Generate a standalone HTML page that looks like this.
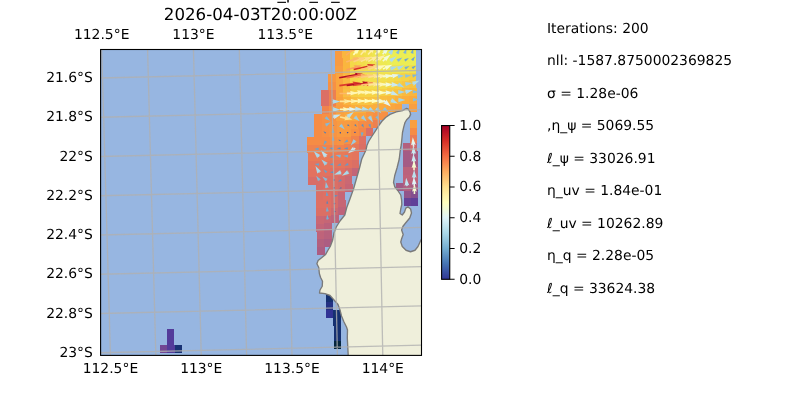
<!DOCTYPE html>
<html><head><meta charset="utf-8"><title>plot</title><style>html,body{margin:0;padding:0;background:#fff}svg{display:block;will-change:transform}</style></head><body>
<svg text-rendering="geometricPrecision" width="800" height="400" viewBox="0 0 800 400" font-family="'DejaVu Sans', 'Liberation Sans', sans-serif">
<rect width="800" height="400" fill="#fff"/>
<defs><clipPath id="ax"><rect x="100.6" y="49.5" width="320.9" height="305.9"/></clipPath>
<linearGradient id="cb" x1="0" y1="0" x2="0" y2="1"><stop offset="0" stop-color="#a50026"/><stop offset="0.05" stop-color="#bd1726"/><stop offset="0.1" stop-color="#d62f27"/><stop offset="0.15" stop-color="#e54e35"/><stop offset="0.2" stop-color="#f46d43"/><stop offset="0.25" stop-color="#f88c51"/><stop offset="0.3" stop-color="#fdad60"/><stop offset="0.35" stop-color="#fdc778"/><stop offset="0.4" stop-color="#fee090"/><stop offset="0.45" stop-color="#fff0a8"/><stop offset="0.5" stop-color="#fffebe"/><stop offset="0.55" stop-color="#f0f9db"/><stop offset="0.6" stop-color="#e0f3f8"/><stop offset="0.65" stop-color="#c5e6f0"/><stop offset="0.7" stop-color="#aad8e9"/><stop offset="0.75" stop-color="#90c3dd"/><stop offset="0.8" stop-color="#74add1"/><stop offset="0.85" stop-color="#5c90c2"/><stop offset="0.9" stop-color="#4574b3"/><stop offset="0.95" stop-color="#3a54a4"/><stop offset="1" stop-color="#313695"/></linearGradient></defs>
<rect x="100.6" y="49.5" width="320.9" height="305.9" fill="#97b6e1"/>
<g clip-path="url(#ax)">
<g shape-rendering="crispEdges">
<rect x="335.1" y="50.7" width="7.5" height="7.6" fill="#f89b41"/>
<rect x="342.4" y="50.5" width="7.5" height="7.6" fill="#fab63e"/>
<rect x="349.7" y="50.4" width="7.5" height="7.6" fill="#f4d848"/>
<rect x="357.0" y="50.2" width="7.5" height="7.6" fill="#f3dc4b"/>
<rect x="364.4" y="50.0" width="7.5" height="7.6" fill="#f1e04d"/>
<rect x="371.7" y="49.8" width="7.5" height="7.6" fill="#efe54f"/>
<rect x="379.0" y="49.7" width="7.5" height="7.6" fill="#eee951"/>
<rect x="386.3" y="49.5" width="7.5" height="7.6" fill="#eced53"/>
<rect x="393.6" y="49.7" width="7.5" height="7.6" fill="#eced53"/>
<rect x="400.9" y="49.5" width="7.5" height="7.6" fill="#eced53"/>
<rect x="408.3" y="49.4" width="7.5" height="7.6" fill="#eced53"/>
<rect x="335.2" y="58.2" width="7.5" height="8.0" fill="#f89b41"/>
<rect x="342.6" y="58.0" width="7.5" height="8.0" fill="#fab63e"/>
<rect x="349.9" y="57.8" width="7.5" height="8.0" fill="#f4d848"/>
<rect x="357.2" y="57.6" width="7.5" height="8.0" fill="#f3dc4b"/>
<rect x="364.5" y="57.5" width="7.5" height="8.0" fill="#f1e04d"/>
<rect x="371.8" y="57.3" width="7.5" height="8.0" fill="#efe54f"/>
<rect x="379.1" y="57.1" width="7.5" height="8.0" fill="#eee951"/>
<rect x="386.5" y="56.9" width="7.5" height="8.0" fill="#eced53"/>
<rect x="393.8" y="57.2" width="7.5" height="8.0" fill="#eced53"/>
<rect x="401.1" y="57.0" width="7.5" height="8.0" fill="#eced53"/>
<rect x="408.4" y="56.8" width="7.5" height="8.0" fill="#eced53"/>
<rect x="335.4" y="66.0" width="7.5" height="8.0" fill="#f99f40"/>
<rect x="342.7" y="65.8" width="7.5" height="8.0" fill="#fab63e"/>
<rect x="350.0" y="65.7" width="7.5" height="8.0" fill="#f4d848"/>
<rect x="357.3" y="65.5" width="7.5" height="8.0" fill="#f3dc4b"/>
<rect x="364.7" y="65.3" width="7.5" height="8.0" fill="#f1e04d"/>
<rect x="372.0" y="65.1" width="7.5" height="8.0" fill="#efe54f"/>
<rect x="379.3" y="65.0" width="7.5" height="8.0" fill="#efe54f"/>
<rect x="386.6" y="64.8" width="7.5" height="8.0" fill="#efe54f"/>
<rect x="393.9" y="65.0" width="7.5" height="8.0" fill="#efe54f"/>
<rect x="401.2" y="64.8" width="7.5" height="8.0" fill="#efe54f"/>
<rect x="408.5" y="64.7" width="7.5" height="8.0" fill="#f1e04d"/>
<rect x="328.3" y="74.0" width="7.5" height="8.0" fill="#f89742"/>
<rect x="335.6" y="73.9" width="7.5" height="8.0" fill="#faa63e"/>
<rect x="342.9" y="73.7" width="7.5" height="8.0" fill="#f9ba40"/>
<rect x="350.2" y="73.5" width="7.5" height="8.0" fill="#f4d848"/>
<rect x="357.5" y="73.3" width="7.5" height="8.0" fill="#f3dc4b"/>
<rect x="364.8" y="73.2" width="7.5" height="8.0" fill="#f1e04d"/>
<rect x="372.1" y="73.0" width="7.5" height="8.0" fill="#f1e04d"/>
<rect x="379.4" y="72.8" width="7.5" height="8.0" fill="#f1e04d"/>
<rect x="386.7" y="72.7" width="7.5" height="8.0" fill="#f3dc4b"/>
<rect x="394.1" y="72.9" width="7.5" height="8.0" fill="#f4d848"/>
<rect x="401.4" y="72.7" width="7.5" height="8.0" fill="#f6d346"/>
<rect x="408.7" y="72.5" width="7.5" height="8.0" fill="#f6cf45"/>
<rect x="328.4" y="81.9" width="7.5" height="8.0" fill="#f79044"/>
<rect x="335.7" y="81.7" width="7.5" height="8.0" fill="#faa63e"/>
<rect x="343.0" y="81.5" width="7.5" height="8.0" fill="#f9ba40"/>
<rect x="350.3" y="81.4" width="7.5" height="8.0" fill="#f6d346"/>
<rect x="357.7" y="81.2" width="7.5" height="8.0" fill="#f3dc4b"/>
<rect x="365.0" y="81.0" width="7.5" height="8.0" fill="#f3dc4b"/>
<rect x="372.3" y="80.9" width="7.5" height="8.0" fill="#f3dc4b"/>
<rect x="379.6" y="80.7" width="7.5" height="8.0" fill="#f3dc4b"/>
<rect x="386.9" y="80.5" width="7.5" height="8.0" fill="#f4d848"/>
<rect x="394.2" y="80.7" width="7.5" height="8.0" fill="#f6cf45"/>
<rect x="401.5" y="80.6" width="7.5" height="8.0" fill="#f8c743"/>
<rect x="408.8" y="80.4" width="7.5" height="8.0" fill="#f8c342"/>
<rect x="321.3" y="89.9" width="7.5" height="8.0" fill="#db6f65"/>
<rect x="328.6" y="89.7" width="7.5" height="8.0" fill="#ed8050"/>
<rect x="335.9" y="89.6" width="7.5" height="8.0" fill="#faa63e"/>
<rect x="343.2" y="89.4" width="7.5" height="8.0" fill="#f9be41"/>
<rect x="350.5" y="89.2" width="7.5" height="8.0" fill="#f6cf45"/>
<rect x="357.8" y="89.1" width="7.5" height="8.0" fill="#f6d346"/>
<rect x="365.1" y="88.9" width="7.5" height="8.0" fill="#f6d346"/>
<rect x="372.4" y="88.7" width="7.5" height="8.0" fill="#f6d346"/>
<rect x="379.7" y="88.5" width="7.5" height="8.0" fill="#f6cf45"/>
<rect x="387.0" y="88.4" width="7.5" height="8.0" fill="#f7cb44"/>
<rect x="394.3" y="88.6" width="7.5" height="8.0" fill="#f8c342"/>
<rect x="401.7" y="88.4" width="7.5" height="8.0" fill="#f9ba40"/>
<rect x="409.0" y="88.2" width="7.5" height="8.0" fill="#fab63e"/>
<rect x="321.4" y="97.8" width="7.5" height="8.0" fill="#db6f65"/>
<rect x="328.7" y="97.6" width="7.5" height="8.0" fill="#ed8050"/>
<rect x="336.1" y="97.4" width="7.5" height="8.0" fill="#f9a23f"/>
<rect x="343.4" y="97.3" width="7.5" height="8.0" fill="#fab23d"/>
<rect x="350.7" y="97.1" width="7.5" height="8.0" fill="#f9be41"/>
<rect x="358.0" y="96.9" width="7.5" height="8.0" fill="#f8c342"/>
<rect x="365.3" y="96.7" width="7.5" height="8.0" fill="#f8c342"/>
<rect x="372.6" y="96.6" width="7.5" height="8.0" fill="#f8c342"/>
<rect x="379.9" y="96.4" width="7.5" height="8.0" fill="#f9be41"/>
<rect x="387.2" y="96.2" width="7.5" height="8.0" fill="#f9ba40"/>
<rect x="394.5" y="96.4" width="7.5" height="8.0" fill="#fab23d"/>
<rect x="401.8" y="96.3" width="7.5" height="8.0" fill="#fbae3c"/>
<rect x="409.1" y="96.1" width="7.5" height="8.0" fill="#fbaa3d"/>
<rect x="321.6" y="105.6" width="7.5" height="8.0" fill="#f0834d"/>
<rect x="328.9" y="105.5" width="7.5" height="8.0" fill="#f79044"/>
<rect x="336.2" y="105.3" width="7.5" height="8.0" fill="#f99f40"/>
<rect x="343.5" y="105.1" width="7.5" height="8.0" fill="#faa63e"/>
<rect x="350.8" y="104.9" width="7.5" height="8.0" fill="#fbae3c"/>
<rect x="358.1" y="104.8" width="7.5" height="8.0" fill="#fbae3c"/>
<rect x="365.4" y="104.6" width="7.5" height="8.0" fill="#fbae3c"/>
<rect x="372.7" y="104.4" width="7.5" height="8.0" fill="#fbae3c"/>
<rect x="380.0" y="104.2" width="7.5" height="8.0" fill="#fbaa3d"/>
<rect x="387.3" y="104.1" width="7.5" height="8.0" fill="#faa63e"/>
<rect x="394.6" y="104.3" width="7.5" height="8.0" fill="#f9a23f"/>
<rect x="409.2" y="103.9" width="7.5" height="8.0" fill="#f99f40"/>
<rect x="314.0" y="113.7" width="8.0" height="8.0" fill="#f68c45"/>
<rect x="321.8" y="113.5" width="7.5" height="8.0" fill="#f79044"/>
<rect x="329.1" y="113.3" width="7.5" height="8.0" fill="#f79044"/>
<rect x="336.4" y="113.1" width="7.5" height="8.0" fill="#f9a23f"/>
<rect x="343.7" y="113.0" width="7.5" height="8.0" fill="#faa63e"/>
<rect x="351.0" y="112.8" width="7.5" height="8.0" fill="#faa63e"/>
<rect x="358.3" y="112.6" width="7.5" height="8.0" fill="#f9a23f"/>
<rect x="365.6" y="112.4" width="7.5" height="8.0" fill="#f89742"/>
<rect x="372.9" y="112.3" width="7.5" height="8.0" fill="#f79044"/>
<rect x="380.2" y="112.1" width="7.5" height="8.0" fill="#f79044"/>
<rect x="314.1" y="121.5" width="7.9" height="8.0" fill="#f68c45"/>
<rect x="321.9" y="121.3" width="7.4" height="8.0" fill="#f79044"/>
<rect x="329.2" y="121.2" width="7.4" height="8.0" fill="#f79443"/>
<rect x="336.5" y="121.0" width="7.4" height="8.0" fill="#f89b41"/>
<rect x="343.8" y="120.8" width="7.4" height="8.0" fill="#f89b41"/>
<rect x="351.1" y="120.6" width="7.4" height="8.0" fill="#f89742"/>
<rect x="358.4" y="120.5" width="7.4" height="8.0" fill="#f68c45"/>
<rect x="365.7" y="120.3" width="7.4" height="8.0" fill="#f48947"/>
<rect x="373.0" y="120.1" width="7.4" height="8.0" fill="#ed8050"/>
<rect x="409.5" y="119.7" width="7.4" height="8.0" fill="#f99f40"/>
<rect x="314.3" y="129.4" width="7.9" height="8.0" fill="#f68c45"/>
<rect x="322.1" y="129.2" width="7.4" height="8.0" fill="#f79044"/>
<rect x="329.4" y="129.0" width="7.4" height="8.0" fill="#f79443"/>
<rect x="336.7" y="128.8" width="7.4" height="8.0" fill="#f89b41"/>
<rect x="344.0" y="128.7" width="7.4" height="8.0" fill="#f89b41"/>
<rect x="351.3" y="128.5" width="7.4" height="8.0" fill="#f79044"/>
<rect x="358.6" y="128.3" width="7.4" height="8.0" fill="#f2864a"/>
<rect x="365.9" y="128.1" width="7.4" height="8.0" fill="#db6f65"/>
<rect x="409.7" y="127.5" width="7.4" height="8.0" fill="#f68c45"/>
<rect x="307.2" y="137.4" width="7.4" height="8.0" fill="#f68c45"/>
<rect x="314.5" y="137.2" width="7.9" height="8.0" fill="#f68c45"/>
<rect x="322.3" y="137.0" width="7.4" height="8.0" fill="#f68c45"/>
<rect x="329.6" y="136.9" width="7.4" height="8.0" fill="#f79044"/>
<rect x="336.9" y="136.7" width="7.4" height="8.0" fill="#f79443"/>
<rect x="344.2" y="136.5" width="7.4" height="8.0" fill="#f79044"/>
<rect x="351.4" y="136.3" width="7.4" height="8.0" fill="#f0834d"/>
<rect x="358.7" y="136.2" width="7.4" height="8.0" fill="#df7063"/>
<rect x="409.8" y="135.4" width="7.4" height="8.0" fill="#ea7c55"/>
<rect x="307.3" y="145.2" width="7.4" height="8.0" fill="#f0834d"/>
<rect x="314.6" y="145.1" width="7.9" height="8.0" fill="#f0834d"/>
<rect x="322.4" y="144.9" width="7.4" height="8.0" fill="#f0834d"/>
<rect x="329.7" y="144.7" width="7.4" height="8.0" fill="#f0834d"/>
<rect x="337.0" y="144.5" width="7.4" height="8.0" fill="#f0834d"/>
<rect x="344.3" y="144.4" width="7.4" height="8.0" fill="#ed8050"/>
<rect x="351.6" y="144.2" width="7.4" height="8.0" fill="#e6785a"/>
<rect x="358.9" y="144.0" width="7.4" height="8.0" fill="#db6f65"/>
<rect x="402.7" y="143.4" width="7.4" height="8.0" fill="#b3607e"/>
<rect x="410.0" y="143.2" width="7.4" height="8.0" fill="#d16a6d"/>
<rect x="307.5" y="153.1" width="7.4" height="8.0" fill="#e97b57"/>
<rect x="314.8" y="152.9" width="7.9" height="8.0" fill="#e97b57"/>
<rect x="322.6" y="152.7" width="7.4" height="8.0" fill="#e97b57"/>
<rect x="329.9" y="152.6" width="7.4" height="8.0" fill="#e97b57"/>
<rect x="337.2" y="152.4" width="7.4" height="8.0" fill="#e97b57"/>
<rect x="344.5" y="152.2" width="7.4" height="8.0" fill="#e6785a"/>
<rect x="351.8" y="152.1" width="7.4" height="8.0" fill="#e4755d"/>
<rect x="402.8" y="151.2" width="7.4" height="8.0" fill="#a45b85"/>
<rect x="410.1" y="151.1" width="7.4" height="8.0" fill="#ac5d82"/>
<rect x="307.7" y="160.9" width="7.4" height="8.0" fill="#e4755d"/>
<rect x="315.0" y="160.8" width="7.9" height="8.0" fill="#e4755d"/>
<rect x="322.8" y="160.6" width="7.4" height="8.0" fill="#e4755d"/>
<rect x="330.1" y="160.4" width="7.4" height="8.0" fill="#e4755d"/>
<rect x="337.3" y="160.3" width="7.4" height="8.0" fill="#e4755d"/>
<rect x="344.6" y="160.1" width="7.4" height="8.0" fill="#e27260"/>
<rect x="351.9" y="159.9" width="7.4" height="8.0" fill="#db6f65"/>
<rect x="402.9" y="159.1" width="7.4" height="8.0" fill="#a45b85"/>
<rect x="410.2" y="158.9" width="7.4" height="8.0" fill="#a45b85"/>
<rect x="307.9" y="168.8" width="7.4" height="8.0" fill="#e27260"/>
<rect x="315.1" y="168.6" width="7.9" height="8.0" fill="#e27260"/>
<rect x="322.9" y="168.5" width="7.4" height="8.0" fill="#e27260"/>
<rect x="330.2" y="168.3" width="7.4" height="8.0" fill="#df7063"/>
<rect x="337.5" y="168.1" width="7.4" height="8.0" fill="#df7063"/>
<rect x="344.8" y="167.9" width="7.4" height="8.0" fill="#d46c6b"/>
<rect x="352.1" y="167.8" width="7.4" height="8.0" fill="#c36578"/>
<rect x="403.1" y="167.0" width="7.4" height="8.0" fill="#bb627b"/>
<rect x="410.4" y="166.8" width="7.4" height="8.0" fill="#bb627b"/>
<rect x="308.0" y="176.7" width="7.4" height="8.0" fill="#d86d68"/>
<rect x="315.3" y="176.5" width="7.9" height="8.0" fill="#d86d68"/>
<rect x="323.1" y="176.3" width="7.4" height="8.0" fill="#db6f65"/>
<rect x="330.4" y="176.1" width="7.4" height="8.0" fill="#db6f65"/>
<rect x="337.7" y="176.0" width="7.4" height="8.0" fill="#d46c6b"/>
<rect x="344.9" y="175.8" width="7.4" height="8.0" fill="#ca6873"/>
<rect x="403.2" y="174.8" width="7.4" height="8.0" fill="#bf637a"/>
<rect x="410.5" y="174.6" width="7.4" height="8.0" fill="#bf637a"/>
<rect x="315.5" y="184.3" width="7.9" height="8.0" fill="#d86d68"/>
<rect x="323.3" y="184.2" width="7.4" height="8.0" fill="#db6f65"/>
<rect x="330.5" y="184.0" width="7.4" height="8.0" fill="#db6f65"/>
<rect x="337.8" y="183.8" width="7.4" height="8.0" fill="#d46c6b"/>
<rect x="345.1" y="183.6" width="7.4" height="8.0" fill="#c66675"/>
<rect x="396.1" y="182.8" width="7.4" height="8.0" fill="#a05a86"/>
<rect x="403.4" y="182.7" width="7.4" height="8.0" fill="#b05e80"/>
<rect x="410.7" y="182.5" width="7.4" height="8.0" fill="#a85c83"/>
<rect x="315.6" y="192.2" width="7.9" height="8.0" fill="#db6f65"/>
<rect x="323.4" y="192.0" width="7.4" height="8.0" fill="#df7063"/>
<rect x="330.7" y="191.8" width="7.4" height="8.0" fill="#d86d68"/>
<rect x="338.0" y="191.7" width="7.4" height="8.0" fill="#c66675"/>
<rect x="403.5" y="190.5" width="7.4" height="8.0" fill="#92548a"/>
<rect x="410.8" y="190.3" width="7.4" height="8.0" fill="#844f8e"/>
<rect x="315.8" y="200.0" width="7.9" height="8.0" fill="#df7063"/>
<rect x="323.6" y="199.9" width="7.4" height="8.0" fill="#df7063"/>
<rect x="330.9" y="199.7" width="7.4" height="8.0" fill="#d86d68"/>
<rect x="338.1" y="199.5" width="7.4" height="8.0" fill="#c66675"/>
<rect x="403.7" y="198.4" width="7.4" height="8.0" fill="#674296"/>
<rect x="410.9" y="198.2" width="7.4" height="8.0" fill="#603f98"/>
<rect x="316.0" y="207.9" width="7.9" height="8.0" fill="#db6f65"/>
<rect x="323.8" y="207.7" width="7.4" height="8.0" fill="#db6f65"/>
<rect x="331.0" y="207.5" width="7.4" height="8.0" fill="#cd6970"/>
<rect x="338.3" y="207.4" width="7.4" height="8.0" fill="#bf637a"/>
<rect x="316.1" y="215.7" width="7.9" height="8.0" fill="#ca6873"/>
<rect x="323.9" y="215.6" width="7.4" height="8.0" fill="#c66675"/>
<rect x="331.2" y="215.4" width="7.4" height="8.0" fill="#bf637a"/>
<rect x="316.3" y="223.6" width="7.9" height="8.0" fill="#c36578"/>
<rect x="324.1" y="223.4" width="7.4" height="8.0" fill="#bb627b"/>
<rect x="316.5" y="231.5" width="7.9" height="8.0" fill="#bf637a"/>
<rect x="324.3" y="231.3" width="7.4" height="8.0" fill="#b7617d"/>
<rect x="316.6" y="239.3" width="7.9" height="8.0" fill="#b3607e"/>
<rect x="324.4" y="239.1" width="7.4" height="8.0" fill="#ac5d82"/>
<rect x="316.8" y="247.2" width="7.9" height="8.0" fill="#ac5d82"/>
<rect x="325.6" y="294.1" width="7.4" height="8.0" fill="#153070"/>
<rect x="325.7" y="302.0" width="7.4" height="8.0" fill="#233182"/>
<rect x="325.9" y="309.8" width="7.4" height="8.0" fill="#303294"/>
<rect x="333.2" y="309.6" width="7.4" height="8.0" fill="#153070"/>
<rect x="333.3" y="317.5" width="7.4" height="8.0" fill="#153070"/>
<rect x="333.5" y="325.4" width="7.4" height="8.0" fill="#153070"/>
<rect x="333.6" y="333.2" width="7.4" height="8.0" fill="#153070"/>
<rect x="333.8" y="341.1" width="7.4" height="8.0" fill="#05263e"/>
<rect x="166.8" y="329.3" width="7.4" height="8.0" fill="#533b9a"/>
<rect x="167.0" y="337.1" width="7.4" height="8.0" fill="#533b9a"/>
<rect x="160.0" y="345.2" width="7.4" height="8.0" fill="#724793"/>
<rect x="167.2" y="345.0" width="7.4" height="8.0" fill="#533b9a"/>
<rect x="174.5" y="344.8" width="7.4" height="8.0" fill="#183173"/>
</g>
<path d="M348.30,357.00 L347.30,338.00 L347.50,330.00 L346.50,327.00 L344.00,322.00 L341.50,316.00 L340.00,310.00 L338.00,304.50 L334.00,300.00 L330.00,295.50 L325.00,293.70 L319.50,293.00 L320.00,290.00 L322.25,286.25 L322.50,281.25 L320.60,277.50 L319.40,273.75 L318.75,267.50 L316.90,263.75 L318.10,260.60 L321.90,257.50 L325.60,254.40 L328.10,250.00 L330.25,246.50 L332.50,240.50 L334.00,233.00 L336.25,227.00 L340.00,221.00 L344.80,215.00 L346.75,207.50 L349.75,199.50 L353.50,189.00 L356.50,178.50 L359.50,168.00 L361.75,159.00 L366.00,150.00 L366.90,145.60 L368.75,141.25 L371.90,136.25 L375.60,130.60 L378.75,125.60 L381.90,121.25 L385.60,117.50 L390.00,114.40 L396.25,111.90 L402.50,110.60 L406.25,108.50 L408.10,109.00 L410.00,111.90 L410.60,114.40 L409.40,116.90 L406.90,119.40 L405.00,122.50 L403.75,126.90 L402.50,132.50 L401.90,138.75 L401.25,145.00 L400.30,150.00 L399.25,159.00 L397.00,168.00 L394.75,175.50 L393.50,182.25 L394.75,186.75 L397.75,190.50 L400.75,195.00 L401.60,200.00 L401.80,204.50 L400.75,209.00 L400.00,213.50 L402.25,215.00 L404.50,212.00 L405.80,208.20 L408.00,206.90 L410.60,209.00 L411.50,213.00 L409.75,218.00 L406.00,222.50 L403.00,226.25 L401.60,230.00 L403.20,234.50 L401.70,238.50 L400.75,242.00 L402.25,246.50 L406.00,250.25 L410.50,251.75 L415.00,250.25 L418.00,246.50 L420.70,240.50 L424.00,236.00 L424.00,360.00 L348.30,360.00Z" fill="#efefdb" stroke="#7a7a7a" stroke-width="1.35" stroke-linejoin="round"/>
<g>
<path d="M328.06,219.46 L328.02,218.95 L329.07,219.37 L327.12,214.45 L326.04,219.63 L327.01,219.04 L327.05,219.55Z" fill="#74add1"/>
<path d="M327.90,211.60 L327.85,211.10 L328.91,211.52 L326.95,206.59 L325.88,211.78 L326.84,211.19 L326.89,211.69Z" fill="#74add1"/>
<path d="M334.67,210.68 L335.36,211.08 L335.36,211.88 L334.67,212.28 L333.98,211.88 L333.98,211.08Z" fill="#36479e"/>
<path d="M327.56,203.78 L327.55,203.45 L328.22,203.76 L327.11,200.50 L326.24,203.83 L326.89,203.48 L326.90,203.81Z" fill="#5385bd"/>
<path d="M334.51,202.82 L335.20,203.22 L335.20,204.02 L334.51,204.42 L333.82,204.02 L333.82,203.22Z" fill="#394fa1"/>
<path d="M327.52,195.90 L327.48,195.45 L328.43,195.82 L326.67,191.39 L325.70,196.06 L326.57,195.53 L326.61,195.98Z" fill="#6ba2cb"/>
<path d="M334.35,196.15 L334.73,196.15 L334.35,196.91 L338.15,195.77 L334.35,194.63 L334.73,195.39 L334.35,195.39Z" fill="#5c90c2"/>
<path d="M327.53,187.98 L327.41,187.35 L328.77,187.76 L325.80,181.84 L325.03,188.42 L326.17,187.57 L326.28,188.20Z" fill="#90c3dd"/>
<path d="M334.18,187.12 L334.88,187.52 L334.88,188.32 L334.18,188.72 L333.49,188.32 L333.49,187.52Z" fill="#394fa1"/>
<path d="M341.39,187.53 L341.17,187.61 L341.23,187.10 L339.32,188.52 L341.70,188.39 L341.33,188.04 L341.54,187.96Z" fill="#436fb1"/>
<path d="M319.93,180.07 L319.59,179.59 L320.89,179.40 L316.10,175.63 L318.02,181.41 L318.64,180.26 L318.97,180.74Z" fill="#83b9d8"/>
<path d="M327.11,179.79 L326.66,179.41 L327.86,178.89 L322.27,176.48 L325.61,181.58 L325.91,180.31 L326.36,180.68Z" fill="#83b9d8"/>
<path d="M333.22,180.06 L333.62,179.37 L334.42,179.37 L334.82,180.06 L334.42,180.76 L333.62,180.76Z" fill="#3d5ba7"/>
<path d="M341.12,179.56 L340.79,179.75 L340.74,178.90 L338.01,181.79 L341.88,180.88 L341.17,180.41 L341.50,180.22Z" fill="#5c90c2"/>
<path d="M319.94,172.17 L319.56,171.51 L321.26,171.41 L315.48,165.96 L317.31,173.70 L318.25,172.28 L318.63,172.93Z" fill="#aad8e9"/>
<path d="M326.89,172.06 L326.57,171.74 L327.54,171.41 L323.34,169.15 L325.60,173.35 L325.93,172.38 L326.25,172.70Z" fill="#6ba2cb"/>
<path d="M333.86,171.80 L333.45,171.80 L333.86,170.99 L329.80,172.21 L333.86,173.43 L333.45,172.61 L333.86,172.61Z" fill="#6095c4"/>
<path d="M340.89,171.32 L340.17,171.58 L340.37,169.89 L333.99,174.64 L341.93,174.18 L340.69,173.01 L341.41,172.75Z" fill="#aad8e9"/>
<path d="M348.05,171.20 L347.39,171.59 L347.29,169.89 L341.84,175.67 L349.57,173.84 L348.15,172.90 L348.81,172.52Z" fill="#aad8e9"/>
<path d="M319.18,164.25 L318.73,164.18 L319.31,163.34 L314.60,164.06 L318.93,166.06 L318.60,165.09 L319.06,165.15Z" fill="#6ba2cb"/>
<path d="M326.91,164.03 L326.41,163.52 L327.91,163.02 L321.38,159.50 L324.90,166.03 L325.40,164.53 L325.91,165.03Z" fill="#9fd0e4"/>
<path d="M333.70,163.92 L333.27,163.92 L333.70,163.06 L329.38,164.36 L333.70,165.65 L333.27,164.79 L333.70,164.79Z" fill="#659bc8"/>
<path d="M340.84,163.78 L340.43,163.93 L340.54,162.97 L336.93,165.66 L341.43,165.40 L340.73,164.74 L341.13,164.59Z" fill="#659bc8"/>
<path d="M348.09,163.62 L347.70,163.80 L347.73,162.84 L344.37,165.83 L348.82,165.18 L348.07,164.58 L348.46,164.40Z" fill="#659bc8"/>
<path d="M319.51,156.33 L318.99,155.77 L320.62,155.29 L313.76,151.28 L317.28,158.40 L317.88,156.81 L318.40,157.37Z" fill="#aad8e9"/>
<path d="M326.86,156.16 L326.15,155.32 L327.89,154.91 L320.91,150.32 L324.22,157.99 L324.93,156.35 L325.63,157.19Z" fill="#bbe1ed"/>
<path d="M333.42,156.09 L333.01,156.20 L333.20,155.25 L329.37,157.62 L333.87,157.75 L333.23,157.03 L333.65,156.92Z" fill="#659bc8"/>
<path d="M340.97,155.79 L340.43,155.65 L341.26,154.71 L335.43,154.88 L340.39,157.95 L340.14,156.72 L340.68,156.87Z" fill="#7fb6d6"/>
<path d="M348.15,155.65 L347.65,155.62 L348.22,154.64 L343.05,155.80 L348.01,157.68 L347.57,156.63 L348.08,156.66Z" fill="#74add1"/>
<path d="M318.79,148.54 L318.33,148.54 L318.79,147.62 L314.22,148.99 L318.79,150.36 L318.33,149.45 L318.79,149.45Z" fill="#6ba2cb"/>
<path d="M326.33,148.38 L325.89,148.13 L326.84,147.50 L321.68,146.28 L325.32,150.14 L325.39,149.01 L325.83,149.26Z" fill="#74add1"/>
<path d="M333.43,148.22 L333.00,148.16 L333.55,147.37 L329.10,148.05 L333.19,149.93 L332.88,149.02 L333.31,149.08Z" fill="#659bc8"/>
<path d="M340.68,148.10 L340.30,148.08 L340.70,147.33 L336.86,148.34 L340.63,149.62 L340.27,148.84 L340.65,148.86Z" fill="#5c90c2"/>
<path d="M347.92,147.90 L347.52,147.93 L347.85,147.09 L343.91,148.66 L348.06,149.52 L347.59,148.74 L347.99,148.71Z" fill="#6095c4"/>
<path d="M354.79,147.47 L353.49,148.39 L353.23,146.62 L348.05,153.17 L355.98,150.55 L354.41,149.70 L355.71,148.79Z" fill="#cbe9f2"/>
<path d="M325.50,140.73 L325.26,141.14 L324.66,140.24 L323.50,145.14 L327.17,141.69 L326.09,141.63 L326.33,141.21Z" fill="#6ea6ce"/>
<path d="M333.72,140.78 L333.70,140.27 L334.73,140.74 L333.03,135.72 L331.69,140.85 L332.68,140.31 L332.70,140.81Z" fill="#74add1"/>
<path d="M340.59,140.38 L340.35,140.30 L340.76,139.91 L338.12,139.75 L340.24,141.34 L340.18,140.77 L340.42,140.86Z" fill="#4574b3"/>
<path d="M347.57,140.05 L347.18,140.28 L347.11,139.26 L343.84,142.73 L348.48,141.64 L347.63,141.07 L348.03,140.84Z" fill="#6ba2cb"/>
<path d="M354.57,139.84 L354.13,140.36 L353.52,138.96 L350.69,145.52 L356.67,141.60 L355.18,141.24 L355.62,140.72Z" fill="#9bcce2"/>
<path d="M325.95,132.88 L325.71,132.69 L326.34,132.41 L323.42,131.16 L325.16,133.81 L325.32,133.15 L325.55,133.35Z" fill="#4d7fb9"/>
<path d="M333.55,132.90 L333.51,132.39 L334.56,132.81 L332.61,127.89 L331.53,133.07 L332.50,132.48 L332.54,132.99Z" fill="#74add1"/>
<path d="M339.54,132.77 L339.94,132.08 L340.74,132.08 L341.14,132.77 L340.74,133.46 L339.94,133.46Z" fill="#3a54a4"/>
<path d="M348.44,132.60 L348.04,133.29 L347.24,133.29 L346.84,132.60 L347.24,131.90 L348.04,131.90Z" fill="#36479e"/>
<path d="M355.74,132.42 L355.34,133.12 L354.54,133.12 L354.14,132.42 L354.54,131.73 L355.34,131.73Z" fill="#36479e"/>
<path d="M361.73,132.21 L361.69,132.71 L360.72,132.12 L361.79,137.30 L363.75,132.38 L362.70,132.80 L362.74,132.29Z" fill="#74add1"/>
<path d="M325.88,125.77 L326.38,125.47 L326.46,126.78 L330.64,122.34 L324.71,123.74 L325.80,124.46 L325.29,124.76Z" fill="#83b9d8"/>
<path d="M332.80,125.24 L332.95,125.33 L332.62,125.55 L334.42,125.98 L333.15,124.63 L333.13,125.02 L332.97,124.93Z" fill="#3e60aa"/>
<path d="M339.72,125.38 L340.18,125.85 L338.78,126.31 L344.85,129.58 L341.58,123.52 L341.12,124.91 L340.65,124.45Z" fill="#94c7df"/>
<path d="M347.32,124.97 L347.55,125.13 L347.00,125.43 L349.77,126.34 L347.96,124.06 L347.87,124.67 L347.64,124.51Z" fill="#4a7ab7"/>
<path d="M354.57,124.78 L354.78,125.00 L354.14,125.21 L356.93,126.72 L355.43,123.92 L355.21,124.57 L355.00,124.35Z" fill="#4d7fb9"/>
<path d="M361.75,124.57 L361.92,124.91 L361.07,124.93 L363.87,127.76 L363.09,123.86 L362.60,124.55 L362.42,124.22Z" fill="#5c90c2"/>
<path d="M368.98,124.37 L369.12,124.78 L368.16,124.67 L370.86,128.28 L370.60,123.78 L369.93,124.48 L369.79,124.08Z" fill="#659bc8"/>
<path d="M325.09,117.89 L325.57,118.22 L324.42,118.84 L330.20,120.75 L326.43,115.97 L326.23,117.26 L325.76,116.93Z" fill="#83b9d8"/>
<path d="M332.97,118.00 L334.33,117.55 L334.06,119.32 L340.93,114.57 L332.58,114.76 L333.83,116.03 L332.48,116.47Z" fill="#c5e6f0"/>
<path d="M339.87,117.85 L345.21,118.89 L344.12,120.30 L352.43,119.47 L345.04,115.59 L345.52,117.31 L340.18,116.28Z" fill="#fee090"/>
<path d="M347.82,117.52 L348.54,116.95 L348.90,118.71 L353.72,111.89 L345.94,114.92 L347.56,115.69 L346.83,116.26Z" fill="#b4deec"/>
<path d="M354.17,117.22 L354.68,117.68 L353.25,118.24 L359.72,121.30 L356.00,115.19 L355.59,116.66 L355.08,116.21Z" fill="#9bcce2"/>
<path d="M361.44,117.03 L361.93,117.51 L360.47,118.00 L366.77,121.39 L363.38,115.09 L362.90,116.54 L362.41,116.06Z" fill="#9bcce2"/>
<path d="M368.63,116.75 L369.00,117.35 L367.42,117.50 L372.99,122.39 L371.04,115.24 L370.21,116.59 L369.83,115.99Z" fill="#9fd0e4"/>
<path d="M376.05,116.47 L376.33,116.96 L375.08,117.03 L379.32,121.03 L377.98,115.36 L377.29,116.40 L377.01,115.92Z" fill="#7fb6d6"/>
<path d="M332.52,110.17 L333.30,110.21 L332.44,111.74 L340.41,109.79 L332.68,107.02 L333.39,108.64 L332.60,108.60Z" fill="#b0dcea"/>
<path d="M339.84,110.01 L343.59,110.14 L342.73,111.71 L350.81,109.59 L342.90,106.91 L343.65,108.54 L339.89,108.41Z" fill="#fff8b5"/>
<path d="M347.12,109.83 L349.57,109.96 L348.69,111.52 L356.81,109.54 L348.94,106.72 L349.66,108.36 L347.21,108.24Z" fill="#e6f5ed"/>
<path d="M354.40,109.66 L355.66,109.77 L354.72,111.29 L362.90,109.60 L355.14,106.51 L355.80,108.17 L354.54,108.06Z" fill="#c1e4ef"/>
<path d="M361.64,109.46 L362.41,109.60 L361.36,111.01 L369.52,110.05 L362.18,106.36 L362.68,108.05 L361.91,107.91Z" fill="#b0dcea"/>
<path d="M368.65,109.12 L369.26,109.54 L367.81,110.32 L375.10,112.73 L370.34,106.71 L370.10,108.33 L369.50,107.91Z" fill="#a6d5e7"/>
<path d="M375.88,108.84 L376.38,109.35 L374.87,109.85 L381.40,113.36 L377.89,106.83 L377.38,108.34 L376.88,107.84Z" fill="#9fd0e4"/>
<path d="M383.28,108.65 L383.76,109.06 L382.46,109.63 L388.54,112.25 L384.91,106.71 L384.58,108.09 L384.09,107.68Z" fill="#90c3dd"/>
<path d="M332.40,102.31 L333.18,102.31 L332.40,103.89 L340.26,101.53 L332.40,99.17 L333.18,100.74 L332.40,100.74Z" fill="#b0dcea"/>
<path d="M339.70,102.15 L344.72,102.15 L343.92,103.75 L351.92,101.35 L343.92,98.95 L344.72,100.55 L339.70,100.55Z" fill="#fee699"/>
<path d="M347.01,101.98 L351.40,101.98 L350.60,103.58 L358.60,101.18 L350.60,98.78 L351.40,100.38 L347.01,100.38Z" fill="#fff0a8"/>
<path d="M354.31,101.81 L358.07,101.81 L357.27,103.41 L365.27,101.01 L357.27,98.61 L358.07,100.21 L354.31,100.21Z" fill="#fff8b5"/>
<path d="M361.59,101.63 L364.92,101.75 L364.07,103.32 L372.15,101.20 L364.24,98.52 L364.98,100.15 L361.65,100.03Z" fill="#fffebe"/>
<path d="M368.88,101.46 L372.21,101.63 L371.33,103.19 L379.44,101.21 L371.58,98.40 L372.30,100.04 L368.97,99.86Z" fill="#fffebe"/>
<path d="M376.12,101.28 L379.13,101.70 L378.11,103.18 L386.37,101.91 L378.78,98.42 L379.35,100.12 L376.34,99.70Z" fill="#f6fbd0"/>
<path d="M383.02,100.93 L384.90,102.50 L383.26,103.21 L390.93,106.52 L386.34,99.54 L385.93,101.28 L384.05,99.70Z" fill="#e6f5ed"/>
<path d="M390.51,100.85 L391.22,101.19 L389.84,102.28 L397.97,103.46 L391.84,98.00 L391.89,99.76 L391.17,99.43Z" fill="#b0dcea"/>
<path d="M398.15,100.70 L398.88,100.70 L398.15,102.17 L405.50,99.97 L398.15,97.76 L398.88,99.23 L398.15,99.23Z" fill="#a6d5e7"/>
<path d="M412.76,100.23 L413.37,100.23 L412.76,101.45 L418.85,99.62 L412.76,97.79 L413.37,99.01 L412.76,99.01Z" fill="#8abeda"/>
<path d="M339.54,94.30 L347.33,94.30 L346.53,95.90 L354.53,93.50 L346.53,91.10 L347.33,92.70 L339.54,92.70Z" fill="#fdb769"/>
<path d="M346.88,94.13 L350.84,93.99 L350.10,95.62 L358.01,92.94 L349.93,90.82 L350.79,92.39 L346.82,92.53Z" fill="#fff6b1"/>
<path d="M354.30,93.94 L358.20,93.25 L357.69,94.97 L365.15,91.21 L356.86,90.24 L357.92,91.68 L354.02,92.37Z" fill="#fff6b1"/>
<path d="M361.53,93.78 L365.28,93.45 L364.62,95.11 L372.38,92.03 L364.20,90.33 L365.14,91.86 L361.39,92.18Z" fill="#fff8b5"/>
<path d="M368.81,93.61 L372.35,93.42 L371.64,95.06 L379.50,92.24 L371.39,90.27 L372.27,91.82 L368.73,92.01Z" fill="#fffcba"/>
<path d="M376.08,93.43 L379.32,93.43 L378.52,95.03 L386.52,92.63 L378.52,90.23 L379.32,91.83 L376.08,91.83Z" fill="#fcfec5"/>
<path d="M383.36,93.26 L386.18,93.36 L385.32,94.93 L393.40,92.81 L385.49,90.13 L386.23,91.76 L383.41,91.66Z" fill="#f0f9db"/>
<path d="M390.39,93.03 L391.72,93.56 L390.38,94.75 L398.69,95.52 L392.18,90.30 L392.32,92.08 L390.99,91.55Z" fill="#c5e6f0"/>
<path d="M398.00,92.85 L398.74,92.85 L398.00,94.32 L405.36,92.11 L398.00,89.91 L398.74,91.38 L398.00,91.38Z" fill="#a6d5e7"/>
<path d="M405.51,92.70 L406.27,92.50 L405.92,94.22 L412.91,89.90 L404.70,89.66 L405.87,90.98 L405.11,91.18Z" fill="#b0dcea"/>
<path d="M412.56,92.37 L413.17,92.43 L412.46,93.59 L418.68,92.30 L412.78,89.95 L413.28,91.21 L412.67,91.16Z" fill="#8abeda"/>
<path d="M339.49,86.44 L353.70,84.44 L353.13,86.14 L360.72,82.65 L352.46,81.39 L353.47,82.86 L339.27,84.85Z" fill="#dc3b2c"/>
<path d="M346.79,86.27 L363.45,84.22 L362.85,85.91 L370.50,82.55 L362.26,81.14 L363.25,82.63 L346.59,84.68Z" fill="#b30d26"/>
<path d="M354.10,86.09 L367.30,84.47 L366.70,86.16 L374.35,82.80 L366.11,81.39 L367.10,82.89 L353.90,84.51Z" fill="#e54e35"/>
<path d="M361.41,85.92 L368.54,85.04 L367.94,86.73 L375.59,83.37 L367.36,81.97 L368.35,83.46 L361.21,84.33Z" fill="#fdc374"/>
<path d="M368.72,85.75 L373.70,85.14 L373.10,86.82 L380.75,83.46 L372.52,82.06 L373.50,83.55 L368.52,84.16Z" fill="#fee699"/>
<path d="M375.98,85.58 L379.94,85.30 L379.26,86.95 L387.07,84.00 L378.92,82.16 L379.83,83.70 L375.87,83.98Z" fill="#fff6b1"/>
<path d="M383.24,85.41 L386.17,85.41 L385.37,87.01 L393.37,84.61 L385.37,82.21 L386.17,83.81 L383.24,83.81Z" fill="#f2fad6"/>
<path d="M390.48,85.23 L392.06,85.37 L391.12,86.89 L399.30,85.20 L391.54,82.11 L392.20,83.77 L390.62,83.64Z" fill="#cbe9f2"/>
<path d="M397.52,84.91 L398.18,85.25 L396.85,86.23 L404.41,87.60 L398.86,82.29 L398.85,83.94 L398.19,83.60Z" fill="#a6d5e7"/>
<path d="M405.27,84.79 L405.97,84.69 L405.46,86.20 L412.20,83.10 L404.87,81.98 L405.77,83.28 L405.07,83.38Z" fill="#9fd0e4"/>
<path d="M412.81,84.62 L413.52,84.29 L413.47,86.05 L419.60,80.59 L411.48,81.77 L412.86,82.87 L412.14,83.20Z" fill="#b0dcea"/>
<path d="M339.36,78.58 L355.89,75.67 L355.38,77.38 L362.84,73.63 L354.55,72.65 L355.61,74.09 L339.08,77.01Z" fill="#b30d26"/>
<path d="M346.67,78.41 L358.10,76.39 L357.59,78.11 L365.05,74.35 L356.76,73.38 L357.82,74.82 L346.39,76.83Z" fill="#f46d43"/>
<path d="M353.97,78.24 L361.66,77.02 L361.12,78.72 L368.65,75.10 L360.37,73.98 L361.41,75.44 L353.72,76.66Z" fill="#fdb769"/>
<path d="M361.28,78.06 L367.80,77.03 L367.26,78.74 L374.78,75.11 L366.51,74.00 L367.55,75.45 L361.03,76.48Z" fill="#fecc7e"/>
<path d="M368.59,77.89 L373.97,77.04 L373.43,78.74 L380.95,75.12 L372.68,74.00 L373.72,75.46 L368.34,76.31Z" fill="#fee090"/>
<path d="M375.90,77.72 L380.03,77.06 L379.49,78.77 L387.02,75.15 L378.74,74.03 L379.78,75.48 L375.65,76.14Z" fill="#fff2ac"/>
<path d="M383.20,77.54 L386.10,77.14 L385.53,78.83 L393.12,75.34 L384.87,74.08 L385.88,75.55 L382.98,75.96Z" fill="#f2fad6"/>
<path d="M390.57,77.36 L392.97,76.85 L392.52,78.58 L399.84,74.57 L391.52,73.89 L392.63,75.29 L390.23,75.80Z" fill="#e6f5ed"/>
<path d="M397.77,77.09 L398.45,77.03 L397.89,78.45 L404.54,75.81 L397.53,74.36 L398.34,75.66 L397.65,75.72Z" fill="#9bcce2"/>
<path d="M405.11,76.86 L405.74,76.77 L405.29,78.12 L411.30,75.35 L404.76,74.35 L405.56,75.51 L404.94,75.60Z" fill="#90c3dd"/>
<path d="M412.48,76.60 L413.02,76.45 L412.77,77.68 L417.73,74.61 L411.90,74.44 L412.73,75.37 L412.19,75.52Z" fill="#7fb6d6"/>
<path d="M346.58,70.54 L355.30,68.20 L354.94,69.96 L362.04,65.57 L353.70,65.32 L354.88,66.66 L346.17,68.99Z" fill="#fba05b"/>
<path d="M353.87,70.37 L368.53,66.99 L368.11,68.72 L375.37,64.59 L367.04,64.05 L368.17,65.43 L353.51,68.81Z" fill="#d62f27"/>
<path d="M361.19,70.20 L368.17,68.46 L367.78,70.20 L374.96,65.94 L366.62,65.54 L367.78,66.90 L360.81,68.64Z" fill="#fdc374"/>
<path d="M368.55,70.01 L374.30,68.25 L374.00,70.02 L380.95,65.38 L372.60,65.43 L373.83,66.72 L368.08,68.48Z" fill="#fed687"/>
<path d="M375.93,69.81 L379.41,68.41 L379.27,70.19 L385.79,64.97 L377.47,65.74 L378.81,66.92 L375.33,68.33Z" fill="#fff8b5"/>
<path d="M383.27,69.63 L386.14,68.35 L386.06,70.14 L392.39,64.69 L384.11,65.75 L385.49,66.89 L382.62,68.17Z" fill="#f8fccb"/>
<path d="M390.48,69.45 L391.20,69.23 L390.92,70.91 L397.53,66.50 L389.59,66.54 L390.76,67.77 L390.03,68.00Z" fill="#aad8e9"/>
<path d="M397.90,69.23 L398.59,68.90 L398.57,70.60 L404.41,65.21 L396.57,66.50 L397.92,67.53 L397.23,67.87Z" fill="#aad8e9"/>
<path d="M405.13,68.85 L405.60,68.60 L405.63,69.79 L409.59,65.88 L404.13,66.97 L405.10,67.66 L404.63,67.91Z" fill="#78b0d3"/>
<path d="M412.45,68.58 L412.83,68.33 L412.96,69.34 L415.98,65.65 L411.43,67.07 L412.32,67.57 L411.94,67.82Z" fill="#6ba2cb"/>
<path d="M346.46,62.67 L353.87,60.27 L353.61,62.03 L360.47,57.28 L352.12,57.47 L353.38,58.74 L345.97,61.15Z" fill="#fdb769"/>
<path d="M353.80,62.49 L359.73,60.33 L359.52,62.11 L366.22,57.12 L357.88,57.60 L359.18,58.83 L353.26,60.99Z" fill="#fed081"/>
<path d="M361.17,62.30 L366.14,60.08 L366.06,61.87 L372.40,56.42 L364.11,57.48 L365.49,58.62 L360.52,60.83Z" fill="#fee090"/>
<path d="M368.54,62.10 L372.78,59.84 L372.83,61.63 L378.77,55.75 L370.58,57.39 L372.03,58.43 L367.79,60.68Z" fill="#feea9f"/>
<path d="M375.91,61.89 L379.59,59.50 L379.79,61.28 L385.20,54.91 L377.18,57.25 L378.72,58.16 L375.04,60.55Z" fill="#fff0a8"/>
<path d="M383.31,61.66 L385.55,59.77 L385.97,61.51 L390.55,54.53 L382.88,57.83 L384.52,58.55 L382.28,60.43Z" fill="#f2fad6"/>
<path d="M390.56,61.51 L391.20,61.06 L391.46,62.80 L396.55,56.36 L388.75,58.94 L390.30,59.77 L389.66,60.23Z" fill="#b0dcea"/>
<path d="M397.74,61.19 L398.23,60.87 L398.38,62.16 L402.32,57.52 L396.47,59.23 L397.60,59.89 L397.11,60.21Z" fill="#83b9d8"/>
<path d="M404.98,60.94 L405.40,60.70 L405.46,61.77 L408.91,58.11 L404.02,59.27 L404.92,59.86 L404.50,60.10Z" fill="#6ea6ce"/>
<path d="M412.43,60.65 L412.73,60.27 L413.19,61.24 L415.02,56.55 L410.92,59.46 L411.97,59.67 L411.68,60.05Z" fill="#6ea6ce"/>
<path d="M346.55,55.69 L353.17,50.52 L353.53,52.27 L358.35,45.45 L350.57,48.49 L352.19,49.26 L345.57,54.43Z" fill="#fdad60"/>
<path d="M353.97,55.42 L356.20,52.94 L356.85,54.61 L360.42,47.06 L353.29,51.40 L355.01,51.87 L352.78,54.35Z" fill="#fffebe"/>
<path d="M361.29,55.25 L364.36,51.83 L365.02,53.49 L368.59,45.94 L361.45,50.28 L363.18,50.76 L360.10,54.18Z" fill="#feeca2"/>
<path d="M368.60,55.07 L371.54,51.81 L372.19,53.48 L375.76,45.93 L368.63,50.26 L370.35,50.74 L367.41,54.00Z" fill="#fff0a8"/>
<path d="M375.92,54.90 L378.15,52.42 L378.81,54.09 L382.38,46.53 L375.24,50.87 L376.96,51.35 L374.73,53.83Z" fill="#fffebe"/>
<path d="M383.24,54.72 L385.05,52.72 L385.70,54.38 L389.27,46.83 L382.13,51.17 L383.86,51.65 L382.05,53.65Z" fill="#ecf8e2"/>
<path d="M390.62,54.40 L391.00,53.74 L391.94,55.16 L393.77,47.42 L387.98,52.87 L389.68,52.98 L389.30,53.64Z" fill="#aad8e9"/>
<path d="M397.83,54.10 L398.09,53.55 L398.93,54.61 L399.85,48.32 L395.62,53.07 L396.98,53.03 L396.73,53.58Z" fill="#8abeda"/>
<path d="M405.12,53.86 L405.31,53.33 L406.17,54.24 L406.51,48.42 L403.02,53.10 L404.26,52.95 L404.07,53.48Z" fill="#7fb6d6"/>
<path d="M412.40,53.63 L412.54,53.14 L413.38,53.89 L413.23,48.59 L410.44,53.10 L411.56,52.87 L411.42,53.36Z" fill="#74add1"/>
<path d="M414.40,146.68 L414.18,144.24 L415.85,144.89 L412.76,137.13 L411.07,145.31 L412.59,144.38 L412.80,146.82Z" fill="#e6f5ed"/>
<path d="M414.54,154.56 L414.46,152.97 L416.10,153.69 L413.28,145.83 L411.30,153.94 L412.86,153.06 L412.94,154.64Z" fill="#cbe9f2"/>
<path d="M414.68,162.42 L414.60,160.83 L416.24,161.54 L413.42,153.68 L411.44,161.79 L413.00,160.91 L413.08,162.50Z" fill="#cbe9f2"/>
<path d="M414.82,170.31 L414.82,167.27 L416.42,168.07 L414.02,160.07 L411.62,168.07 L413.22,167.27 L413.22,170.31Z" fill="#f6fbd0"/>
<path d="M414.96,178.17 L414.96,177.07 L416.56,177.87 L414.16,169.87 L411.76,177.87 L413.36,177.07 L413.36,178.17Z" fill="#bbe1ed"/>
<path d="M415.10,185.98 L414.99,183.80 L416.63,184.51 L413.81,176.65 L411.83,184.76 L413.39,183.88 L413.50,186.06Z" fill="#e0f3f8"/>
<path d="M415.24,193.88 L415.24,190.84 L416.84,191.64 L414.44,183.64 L412.04,191.64 L413.64,190.84 L413.64,193.88Z" fill="#f6fbd0"/>
<path d="M407.81,186.11 L407.68,184.85 L409.36,185.48 L406.13,177.78 L404.58,185.98 L406.09,185.02 L406.22,186.28Z" fill="#c1e4ef"/>
</g>
<path d="M101.64,47.50 L110.51,357.40 M147.52,47.50 L155.89,357.40 M193.40,47.50 L201.28,357.40 M239.28,47.50 L246.67,357.40 M285.16,47.50 L292.05,357.40 M331.03,47.50 L337.44,357.40 M376.91,47.50 L382.83,357.40 M422.79,47.50 L428.22,357.40 M98.60,352.80 L423.50,345.15 M98.60,313.55 L423.50,305.89 M98.60,274.30 L423.50,266.63 M98.60,235.05 L423.50,227.37 M98.60,195.80 L423.50,188.11 M98.60,156.55 L423.50,148.85 M98.60,117.30 L423.50,109.59 M98.60,78.05 L423.50,70.33" stroke="#b0b0b0" stroke-opacity="0.8" stroke-width="1.3" fill="none"/>
</g>
<rect x="100.6" y="49.5" width="320.9" height="305.9" fill="none" stroke="#000" stroke-width="1.1"/>
<g font-size="13.89px" fill="#000">
<text x="101.70" y="38.8" text-anchor="middle">112.5°E</text>
<text x="110.45" y="372.9" text-anchor="middle">112.5°E</text>
<text x="193.45" y="38.8" text-anchor="middle">113°E</text>
<text x="201.23" y="372.9" text-anchor="middle">113°E</text>
<text x="285.20" y="38.8" text-anchor="middle">113.5°E</text>
<text x="292.01" y="372.9" text-anchor="middle">113.5°E</text>
<text x="376.95" y="38.8" text-anchor="middle">114°E</text>
<text x="382.79" y="372.9" text-anchor="middle">114°E</text>
<text x="92.8" y="356.75" text-anchor="end">23°S</text>
<text x="92.8" y="317.50" text-anchor="end">22.8°S</text>
<text x="92.8" y="278.25" text-anchor="end">22.6°S</text>
<text x="92.8" y="239.00" text-anchor="end">22.4°S</text>
<text x="92.8" y="199.75" text-anchor="end">22.2°S</text>
<text x="92.8" y="160.50" text-anchor="end">22°S</text>
<text x="92.8" y="121.25" text-anchor="end">21.8°S</text>
<text x="92.8" y="82.00" text-anchor="end">21.6°S</text>
</g>
<text x="260.4" y="20" font-size="16.67px" text-anchor="middle">2026-04-03T20:00:00Z</text>
<text x="277.4" y="-0.7" font-size="16.67px" fill="#000">_psi_ls_</text>
<rect x="441.6" y="125.55" width="8.15" height="153.75" fill="url(#cb)" stroke="#000" stroke-width="1.1"/>
<text x="459.3" y="283.60" font-size="13.89px">0.0</text>
<text x="459.3" y="252.85" font-size="13.89px">0.2</text>
<text x="459.3" y="222.10" font-size="13.89px">0.4</text>
<text x="459.3" y="191.35" font-size="13.89px">0.6</text>
<text x="459.3" y="160.60" font-size="13.89px">0.8</text>
<text x="459.3" y="129.85" font-size="13.89px">1.0</text>
<path d="M449.75,279.30 h4.86 M449.75,248.55 h4.86 M449.75,217.80 h4.86 M449.75,187.05 h4.86 M449.75,156.30 h4.86 M449.75,125.55 h4.86" stroke="#000" stroke-width="1.1"/>
<text x="547" y="33.00" font-size="13.89px">Iterations: 200</text>
<text x="547" y="65.00" font-size="13.89px">nll: -1587.8750002369825</text>
<text x="547" y="98.00" font-size="13.89px">σ = 1.28e-06</text>
<text x="547" y="130.00" font-size="13.89px">,η_ψ = 5069.55</text>
<text x="547" y="163.00" font-size="13.89px">ℓ_ψ = 33026.91</text>
<text x="547" y="195.00" font-size="13.89px">η_uv = 1.84e-01</text>
<text x="547" y="228.00" font-size="13.89px">ℓ_uv = 10262.89</text>
<text x="547" y="260.00" font-size="13.89px">η_q = 2.28e-05</text>
<text x="547" y="293.00" font-size="13.89px">ℓ_q = 33624.38</text>
</svg>
</body></html>
